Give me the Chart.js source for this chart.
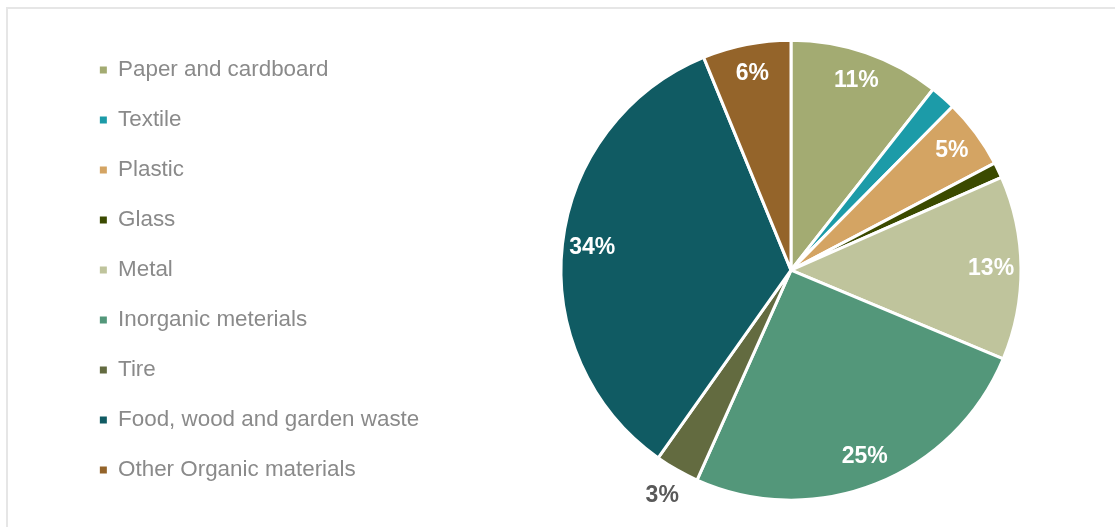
<!DOCTYPE html>
<html lang="en">
<head>
  <meta charset="UTF-8" />
  <title>Waste composition</title>
  <script src="https://cdn.jsdelivr.net/npm/chart.js"></script>
  <style>
    html, body { margin: 0; padding: 0; background: #fff; }
    #wrap { position: relative; width: 1115px; height: 527px; overflow: hidden; }
    #frame { position: absolute; left: 6px; top: 7px; width: 1200px; height: 600px;
             border-top: 2px solid #e6e6e6; border-left: 2px solid #e6e6e6; }
    #wasteChart { position: absolute; left: 0; top: 0; }
  </style>
</head>
<body>
<div id="wrap">
  <div id="frame"></div>
  <canvas id="wasteChart" width="1115" height="527"></canvas>
</div>

<script>
  const categories = [
    "Paper and cardboard", "Textile", "Plastic", "Glass", "Metal",
    "Inorganic meterials", "Tire", "Food, wood and garden waste", "Other Organic materials"
  ];
  const shares = [10.6, 1.8, 4.9, 1.1, 12.9, 25.4, 3.1, 34.0, 6.2];
  const colors = [
    "#a3ab72", "#1c9ba8", "#d4a463", "#3b4a00", "#bfc49c",
    "#53977a", "#636b40", "#105b63", "#94642a"
  ];

  const FONT = "'Liberation Sans', Arial, sans-serif";

  // fixed legend width so the pie lands where it should
  const legendWidth = {
    id: 'legendWidth',
    beforeLayout(chart) {
      const lg = chart.legend;
      if (lg && !lg._patched) {
        const orig = lg.fit;
        lg.fit = function() { orig.call(this); this.width = 420; };
        lg._patched = true;
      }
    }
  };

  // percent labels on the slices
  const sliceLabels = {
    id: 'sliceLabels',
    afterDatasetsDraw(chart) {
      const ctx = chart.ctx;
      const meta = chart.getDatasetMeta(0);
      ctx.save();
      ctx.font = "bold 23px " + FONT;
      ctx.textAlign = 'center';
      ctx.textBaseline = 'middle';
      meta.data.forEach((arc, i) => {
        const v = shares[i];
        if (v < 2.5) return;
        const p = arc.getProps(['x', 'y', 'startAngle', 'endAngle', 'outerRadius'], true);
        const mid = (p.startAngle + p.endAngle) / 2;
        const outside = v < 4;
        const r = p.outerRadius * (outside ? 1.13 : 0.87);
        ctx.fillStyle = outside ? '#595959' : '#ffffff';
        ctx.fillText(Math.round(v) + '%', p.x + Math.cos(mid) * r, p.y + Math.sin(mid) * r);
      });
      ctx.restore();
    }
  };

  const defaultLabels = Chart.controllers.pie.overrides.plugins.legend.labels.generateLabels;

  new Chart(document.getElementById('wasteChart'), {
    type: 'pie',
    data: {
      labels: categories,
      datasets: [{
        data: shares,
        backgroundColor: colors,
        borderColor: '#ffffff',
        borderWidth: 3,
        radius: 230
      }]
    },
    options: {
      responsive: false,
      animation: false,
      layout: { padding: { left: 72.25, top: 31.25, bottom: 18, right: 25.25 } },
      plugins: {
        legend: {
          position: 'left',
          align: 'start',
          labels: {
            boxWidth: 7,
            boxHeight: 7,
            padding: 27.6,
            color: '#8a8a8a',
            font: { family: FONT, size: 22.4 },
            generateLabels(chart) {
              return defaultLabels(chart).map(l => Object.assign(l, { lineWidth: 0, strokeStyle: l.fillStyle }));
            }
          }
        },
        tooltip: { enabled: false }
      }
    },
    plugins: [legendWidth, sliceLabels]
  });
</script>
</body>
</html>
